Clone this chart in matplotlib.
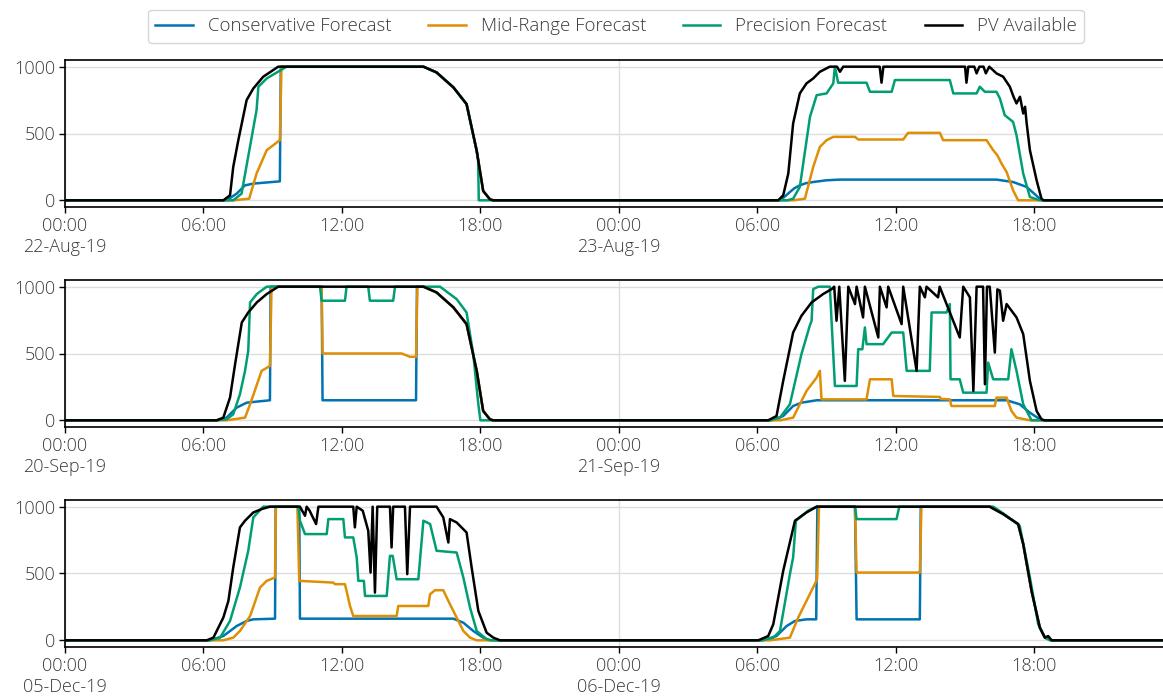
import numpy as np
import pandas as pd
import matplotlib
matplotlib.use('Agg')
import matplotlib.pyplot as plt
import matplotlib.dates as mdates

# Each series is a list of (hour of day, kW) break points.
# Panel 1: 22/23 Aug 2019
aug22_cons = [(0, 0), (7.0, 0), (7.44, 50), (7.8, 112), (8.16, 125), (9.31, 142), (9.35, 1000),
              (15.53, 1000), (16.1, 957), (16.83, 845), (17.4, 720), (17.84, 370), (18.12, 70),
              (18.41, 8), (18.55, 0), (24, 0)]
aug23_cons = [(0, 0), (6.98, 0), (7.2, 30), (7.41, 62), (7.6, 90), (7.84, 112), (8.1, 128),
              (8.42, 137), (9.0, 150), (9.58, 155), (16.36, 155), (17.08, 137), (17.67, 100),
              (18.24, 12), (18.4, 0), (23.75, 0)]
aug22_mid = [(0, 0), (7.3, 0), (7.98, 12), (8.3, 200), (8.74, 375), (9.31, 450), (9.38, 1000),
             (15.53, 1000), (16.1, 957), (16.83, 845), (17.4, 720), (17.84, 370), (18.12, 70),
             (18.41, 8), (18.55, 0), (24, 0)]
aug23_mid = [(0, 0), (7.55, 0), (8.06, 12), (8.42, 250), (8.71, 400), (9.0, 450), (9.29, 475),
             (10.23, 475), (10.37, 455), (12.32, 455), (12.53, 505), (13.91, 505), (14.05, 450),
             (15.93, 450), (16.22, 375), (16.4, 337), (16.58, 275), (16.8, 212), (17.08, 75),
             (17.3, 0), (23.75, 0)]
aug22_prec = [(0, 0), (7.29, 0), (7.65, 50), (8.3, 675), (8.38, 850), (8.74, 912), (9.6, 1000),
              (15.53, 1000), (16.1, 957), (16.83, 845), (17.4, 720), (17.84, 370), (17.9, 300),
              (17.93, 0), (24, 0)]
aug23_prec = [(0, 0), (7.3, 0), (7.55, 12), (7.84, 100), (8.28, 625), (8.57, 787), (9.0, 800),
              (9.29, 875), (9.36, 1000), (9.5, 880), (10.73, 880), (10.88, 812), (11.82, 812),
              (11.96, 900), (14.34, 900), (14.49, 800), (15.5, 800), (15.64, 850), (15.86, 812),
              (16.36, 812), (16.51, 762), (16.72, 637), (17.08, 587), (17.23, 487), (17.52, 200),
              (17.81, 25), (18.24, 0), (23.75, 0)]
aug22_pv = [(0, 0), (6.86, 0), (7.15, 37), (7.29, 250), (7.51, 450), (7.87, 750), (8.16, 837),
            (8.59, 925), (9.24, 1000), (15.53, 1000), (16.1, 957), (16.83, 845), (17.4, 720),
            (17.84, 370), (18.12, 70), (18.41, 8), (18.55, 0), (24, 0)]
aug23_pv = [(0, 0), (6.9, 0), (7.12, 37), (7.34, 200), (7.55, 575), (7.84, 800), (8.13, 875),
            (8.42, 912), (8.71, 962), (9.14, 1000), (9.45, 1000), (9.58, 962), (9.72, 1000),
            (11.3, 1000), (11.38, 880), (11.46, 1000), (15.0, 1000), (15.06, 880), (15.14, 1000),
            (15.4, 1000), (15.5, 950), (15.62, 1000), (15.8, 1000), (15.9, 950), (16.05, 1000),
            (16.36, 950), (16.65, 925), (16.94, 850), (17.1, 775), (17.23, 725), (17.38, 775),
            (17.52, 650), (17.6, 700), (17.67, 575), (17.81, 375), (18.1, 150), (18.31, 12),
            (18.4, 0), (23.75, 0)]

# Panel 2: 20/21 Sep 2019
sep20_cons = [(0, 0), (6.57, 0), (7.0, 20), (7.44, 95), (7.87, 132), (8.31, 140), (8.88, 150),
              (8.91, 1000), (11.12, 1000), (11.16, 150), (15.21, 150), (15.25, 1000),
              (15.53, 1000), (16.1, 957), (16.83, 845), (17.4, 720), (17.84, 370), (18.12, 70),
              (18.41, 8), (18.55, 0), (24, 0)]
sep21_cons = [(0, 0), (6.61, 0), (7.12, 32), (7.55, 107), (7.91, 132), (8.57, 150), (16.8, 150),
              (17.37, 120), (17.81, 57), (18.24, 8), (18.38, 0), (23.75, 0)]
sep20_mid = [(0, 0), (7.0, 0), (7.8, 20), (8.02, 120), (8.52, 370), (8.88, 407), (8.95, 1000),
             (11.12, 1000), (11.16, 500), (14.59, 500), (14.95, 475), (15.21, 475), (15.27, 1000),
             (15.53, 1000), (16.1, 957), (16.83, 845), (17.4, 720), (17.84, 370), (18.12, 70),
             (18.41, 8), (18.55, 0), (24, 0)]
sep21_mid = [(0, 0), (7.0, 0), (7.55, 20), (8.13, 220), (8.57, 320), (8.71, 370), (8.78, 157),
             (10.73, 157), (10.88, 307), (11.82, 307), (11.89, 182), (13.91, 175), (13.95, 160),
             (14.34, 157), (14.41, 107), (16.29, 107), (16.36, 170), (16.8, 170), (17.01, 70),
             (17.23, 20), (17.81, 0), (23.75, 0)]
sep20_prec = [(0, 0), (6.57, 0), (7.0, 8), (7.29, 45), (7.58, 195), (7.8, 370), (7.94, 520),
              (8.02, 882), (8.31, 945), (8.74, 1000), (11.05, 1000), (11.12, 895), (12.13, 895),
              (12.2, 1000), (13.14, 1000), (13.21, 895), (14.22, 895), (14.3, 1000),
              (16.25, 1000), (16.97, 907), (17.4, 807), (17.69, 495), (17.91, 120), (18.0, 0),
              (24, 0)]
sep21_prec = [(0, 0), (6.54, 0), (6.98, 20), (7.41, 120), (7.91, 495), (8.27, 707), (8.35, 745),
              (8.42, 982), (8.64, 1000), (9.14, 1000), (9.36, 257), (10.3, 257), (10.37, 532),
              (10.55, 532), (10.66, 695), (10.73, 570), (11.45, 570), (11.82, 657), (12.32, 657),
              (12.47, 370), (13.47, 370), (13.55, 807), (14.2, 807), (14.34, 870), (14.37, 307),
              (14.77, 307), (14.92, 207), (15.93, 207), (16.0, 432), (16.22, 307), (16.87, 307),
              (17.01, 532), (17.23, 370), (17.52, 120), (17.88, 0), (23.75, 0)]
sep20_pv = [(0, 0), (6.57, 0), (6.86, 20), (7.15, 170), (7.37, 420), (7.66, 732), (7.94, 807),
            (8.31, 882), (8.74, 945), (9.24, 1000), (15.53, 1000), (16.1, 957), (16.83, 845),
            (17.4, 720), (17.84, 370), (18.12, 70), (18.41, 8), (18.55, 0), (24, 0)]
sep21_pv = [(0, 0), (6.47, 0), (6.83, 32), (7.12, 295), (7.55, 657), (7.91, 782), (8.35, 882),
            (8.85, 945), (9.22, 982), (9.33, 1000), (9.43, 745), (9.55, 1000), (9.79, 295),
            (9.94, 1000), (10.23, 870), (10.3, 1000), (10.58, 770), (10.66, 1000), (11.24, 620),
            (11.31, 1000), (11.6, 845), (11.67, 1000), (12.25, 720), (12.32, 1000), (12.9, 370),
            (13.04, 1000), (13.26, 920), (13.33, 1000), (13.83, 920), (13.9, 1000), (14.77, 620),
            (14.92, 1000), (15.21, 920), (15.36, 220), (15.5, 1000), (15.78, 1000), (15.86, 270),
            (15.95, 1000), (16.07, 1000), (16.29, 507), (16.4, 980), (16.51, 970), (16.65, 745),
            (16.8, 870), (17.23, 770), (17.52, 645), (17.81, 295), (18.1, 70), (18.31, 8),
            (18.45, 0), (23.75, 0)]

# Panel 3: 05/06 Dec 2019
dec05_cons = [(0, 0), (6.28, 0), (6.86, 32), (7.44, 107), (7.87, 145), (8.16, 157), (9.1, 162),
              (9.13, 1000), (10.15, 1000), (10.18, 162), (16.83, 162), (17.26, 132), (17.69, 70),
              (18.12, 20), (18.41, 0), (24, 0)]
dec06_cons = [(0, 0), (6.25, 0), (6.83, 32), (7.27, 107), (7.63, 145), (8.13, 157), (8.55, 157),
              (8.6, 1000), (10.23, 1000), (10.3, 157), (13.04, 157), (13.08, 1000), (16.07, 1000),
              (16.65, 945), (17.3, 870), (17.52, 720), (17.88, 370), (18.24, 95), (18.46, 20),
              (18.75, 0), (23.75, 0)]
dec05_mid = [(0, 0), (6.86, 0), (7.29, 20), (7.58, 70), (8.02, 182), (8.45, 395), (8.74, 445),
             (9.1, 470), (9.14, 1000), (10.07, 1000), (10.15, 445), (11.62, 432), (11.7, 420),
             (12.13, 420), (12.2, 370), (12.35, 257), (12.49, 182), (14.37, 182), (14.44, 257),
             (15.74, 257), (15.82, 345), (16.03, 375), (16.39, 375), (16.61, 295), (16.97, 170),
             (17.26, 70), (17.55, 20), (17.84, 0), (24, 0)]
dec06_mid = [(0, 0), (6.54, 0), (7.41, 20), (7.77, 170), (8.2, 320), (8.59, 457), (8.67, 1000),
             (10.23, 1000), (10.3, 507), (13.04, 507), (13.11, 1000), (16.07, 1000), (16.65, 945),
             (17.3, 870), (17.52, 720), (17.88, 370), (18.24, 95), (18.46, 20), (18.75, 0),
             (23.75, 0)]
dec05_prec = [(0, 0), (6.28, 0), (6.72, 20), (7.15, 145), (7.58, 395), (7.94, 670), (8.16, 920),
              (8.59, 1000), (10.11, 1000), (10.18, 895), (10.4, 795), (11.34, 795), (11.41, 907),
              (12.06, 907), (12.13, 770), (12.49, 770), (12.64, 620), (12.71, 445), (12.95, 445),
              (13.0, 332), (13.94, 332), (14.08, 632), (14.2, 632), (14.37, 457), (15.31, 457),
              (15.53, 895), (15.82, 870), (16.1, 670), (16.97, 657), (17.26, 470), (17.55, 245),
              (17.84, 70), (18.27, 8), (18.5, 0), (24, 0)]
dec06_prec = [(0, 0), (6.18, 0), (6.69, 20), (6.98, 70), (7.41, 495), (7.55, 620), (7.67, 895),
              (8.2, 970), (8.57, 1000), (10.23, 1000), (10.3, 907), (12.03, 907), (12.15, 1000),
              (16.22, 1000), (16.65, 950), (17.37, 857), (17.81, 470), (18.17, 120), (18.46, 20),
              (18.67, 0), (23.75, 0)]
dec05_pv = [(0, 0), (6.14, 0), (6.43, 20), (6.86, 170), (7.08, 295), (7.29, 545), (7.58, 845),
            (7.8, 895), (8.16, 957), (8.52, 982), (8.88, 1000), (10.18, 1000), (10.4, 932),
            (10.47, 1000), (10.6, 970), (10.88, 870), (10.98, 1000), (12.49, 1000), (12.56, 845),
            (12.64, 1000), (12.9, 970), (13.14, 820), (13.24, 507), (13.33, 1000), (13.43, 357),
            (13.53, 1000), (14.08, 1000), (14.15, 695), (14.22, 1000), (14.73, 1000),
            (14.83, 495), (14.95, 1000), (16.1, 1000), (16.39, 920), (16.61, 732), (16.68, 907),
            (16.97, 882), (17.4, 807), (17.62, 545), (17.91, 220), (18.27, 57), (18.56, 20),
            (18.85, 0), (24, 0)]
dec06_pv = [(0, 0), (6.04, 0), (6.47, 32), (6.69, 120), (7.12, 520), (7.63, 895), (8.13, 957),
            (8.57, 1000), (16.07, 1000), (16.65, 945), (17.3, 870), (17.52, 720), (17.88, 370),
            (18.24, 95), (18.46, 20), (18.6, 32), (18.75, 0), (23.75, 0)]

labels = ['Conservative Forecast', 'Mid-Range Forecast', 'Precision Forecast', 'PV Available']
colors = ['#0173B2', '#DE8F05', '#029E73', 'black']

panels = [
    ('2019-08-22', [(aug22_cons, aug23_cons), (aug22_mid, aug23_mid),
                    (aug22_prec, aug23_prec), (aug22_pv, aug23_pv)]),
    ('2019-09-20', [(sep20_cons, sep21_cons), (sep20_mid, sep21_mid),
                    (sep20_prec, sep21_prec), (sep20_pv, sep21_pv)]),
    ('2019-12-05', [(dec05_cons, dec06_cons), (dec05_mid, dec06_mid),
                    (dec05_prec, dec06_prec), (dec05_pv, dec06_pv)]),
]

plt.rcParams['font.family'] = ['Open Sans', 'DejaVu Sans']
plt.rcParams['font.weight'] = 'light'
plt.rcParams['font.size'] = 13

fig = plt.figure(figsize=(11.63, 6.97), dpi=100)

W, H = 1163.0, 697.0
left = 65 / W
width = (1167 - 65) / W
tops = [60, 280, 500]
axh = 147 / H

axes = []
for i, (day, series) in enumerate(panels):
    ax = fig.add_axes([left, 1 - (tops[i] + 147) / H, width, axh])
    start = pd.Timestamp(day)
    for (d1, d2), lab, col in zip(series, labels, colors):
        hrs = [p[0] for p in d1] + [24 + p[0] for p in d2]
        vals = [p[1] for p in d1] + [p[1] for p in d2]
        x = (start + pd.to_timedelta(hrs, unit='h')).to_numpy()
        ax.plot(x, vals, color=col, lw=1.8, label=lab)

    ax.set_xlim(start.to_numpy(), (start + pd.Timedelta(hours=47.75)).to_numpy())
    ax.set_ylim(-50, 1050)
    ax.set_yticks([0, 500, 1000])
    ax.xaxis.set_major_locator(mdates.DayLocator())
    ax.xaxis.set_major_formatter(mdates.DateFormatter('%H:%M\n%d-%b-%y'))
    ax.xaxis.set_minor_locator(mdates.HourLocator(byhour=[6, 12, 18]))
    ax.xaxis.set_minor_formatter(mdates.DateFormatter('%H:%M'))
    ax.tick_params(axis='both', which='both', direction='out', length=4, width=1,
                   labelcolor='#3a3a3a', labelsize=13, pad=3)
    ax.grid(axis='y', color='#dddddd', lw=1)
    ax.grid(axis='x', which='major', color='#dddddd', lw=1)
    ax.set_axisbelow(True)
    for s in ['left', 'bottom', 'top']:
        ax.spines[s].set_linewidth(1.2)
        ax.spines[s].set_color('black')
    ax.spines['right'].set_visible(False)
    axes.append(ax)

leg = axes[0].legend(loc='lower center', bbox_to_anchor=(0.5, 1.055), ncol=4, fontsize=13.4,
                     frameon=True, labelcolor='#3a3a3a')
leg.get_frame().set_edgecolor('#cccccc')

fig.savefig('out.png', dpi=100)
